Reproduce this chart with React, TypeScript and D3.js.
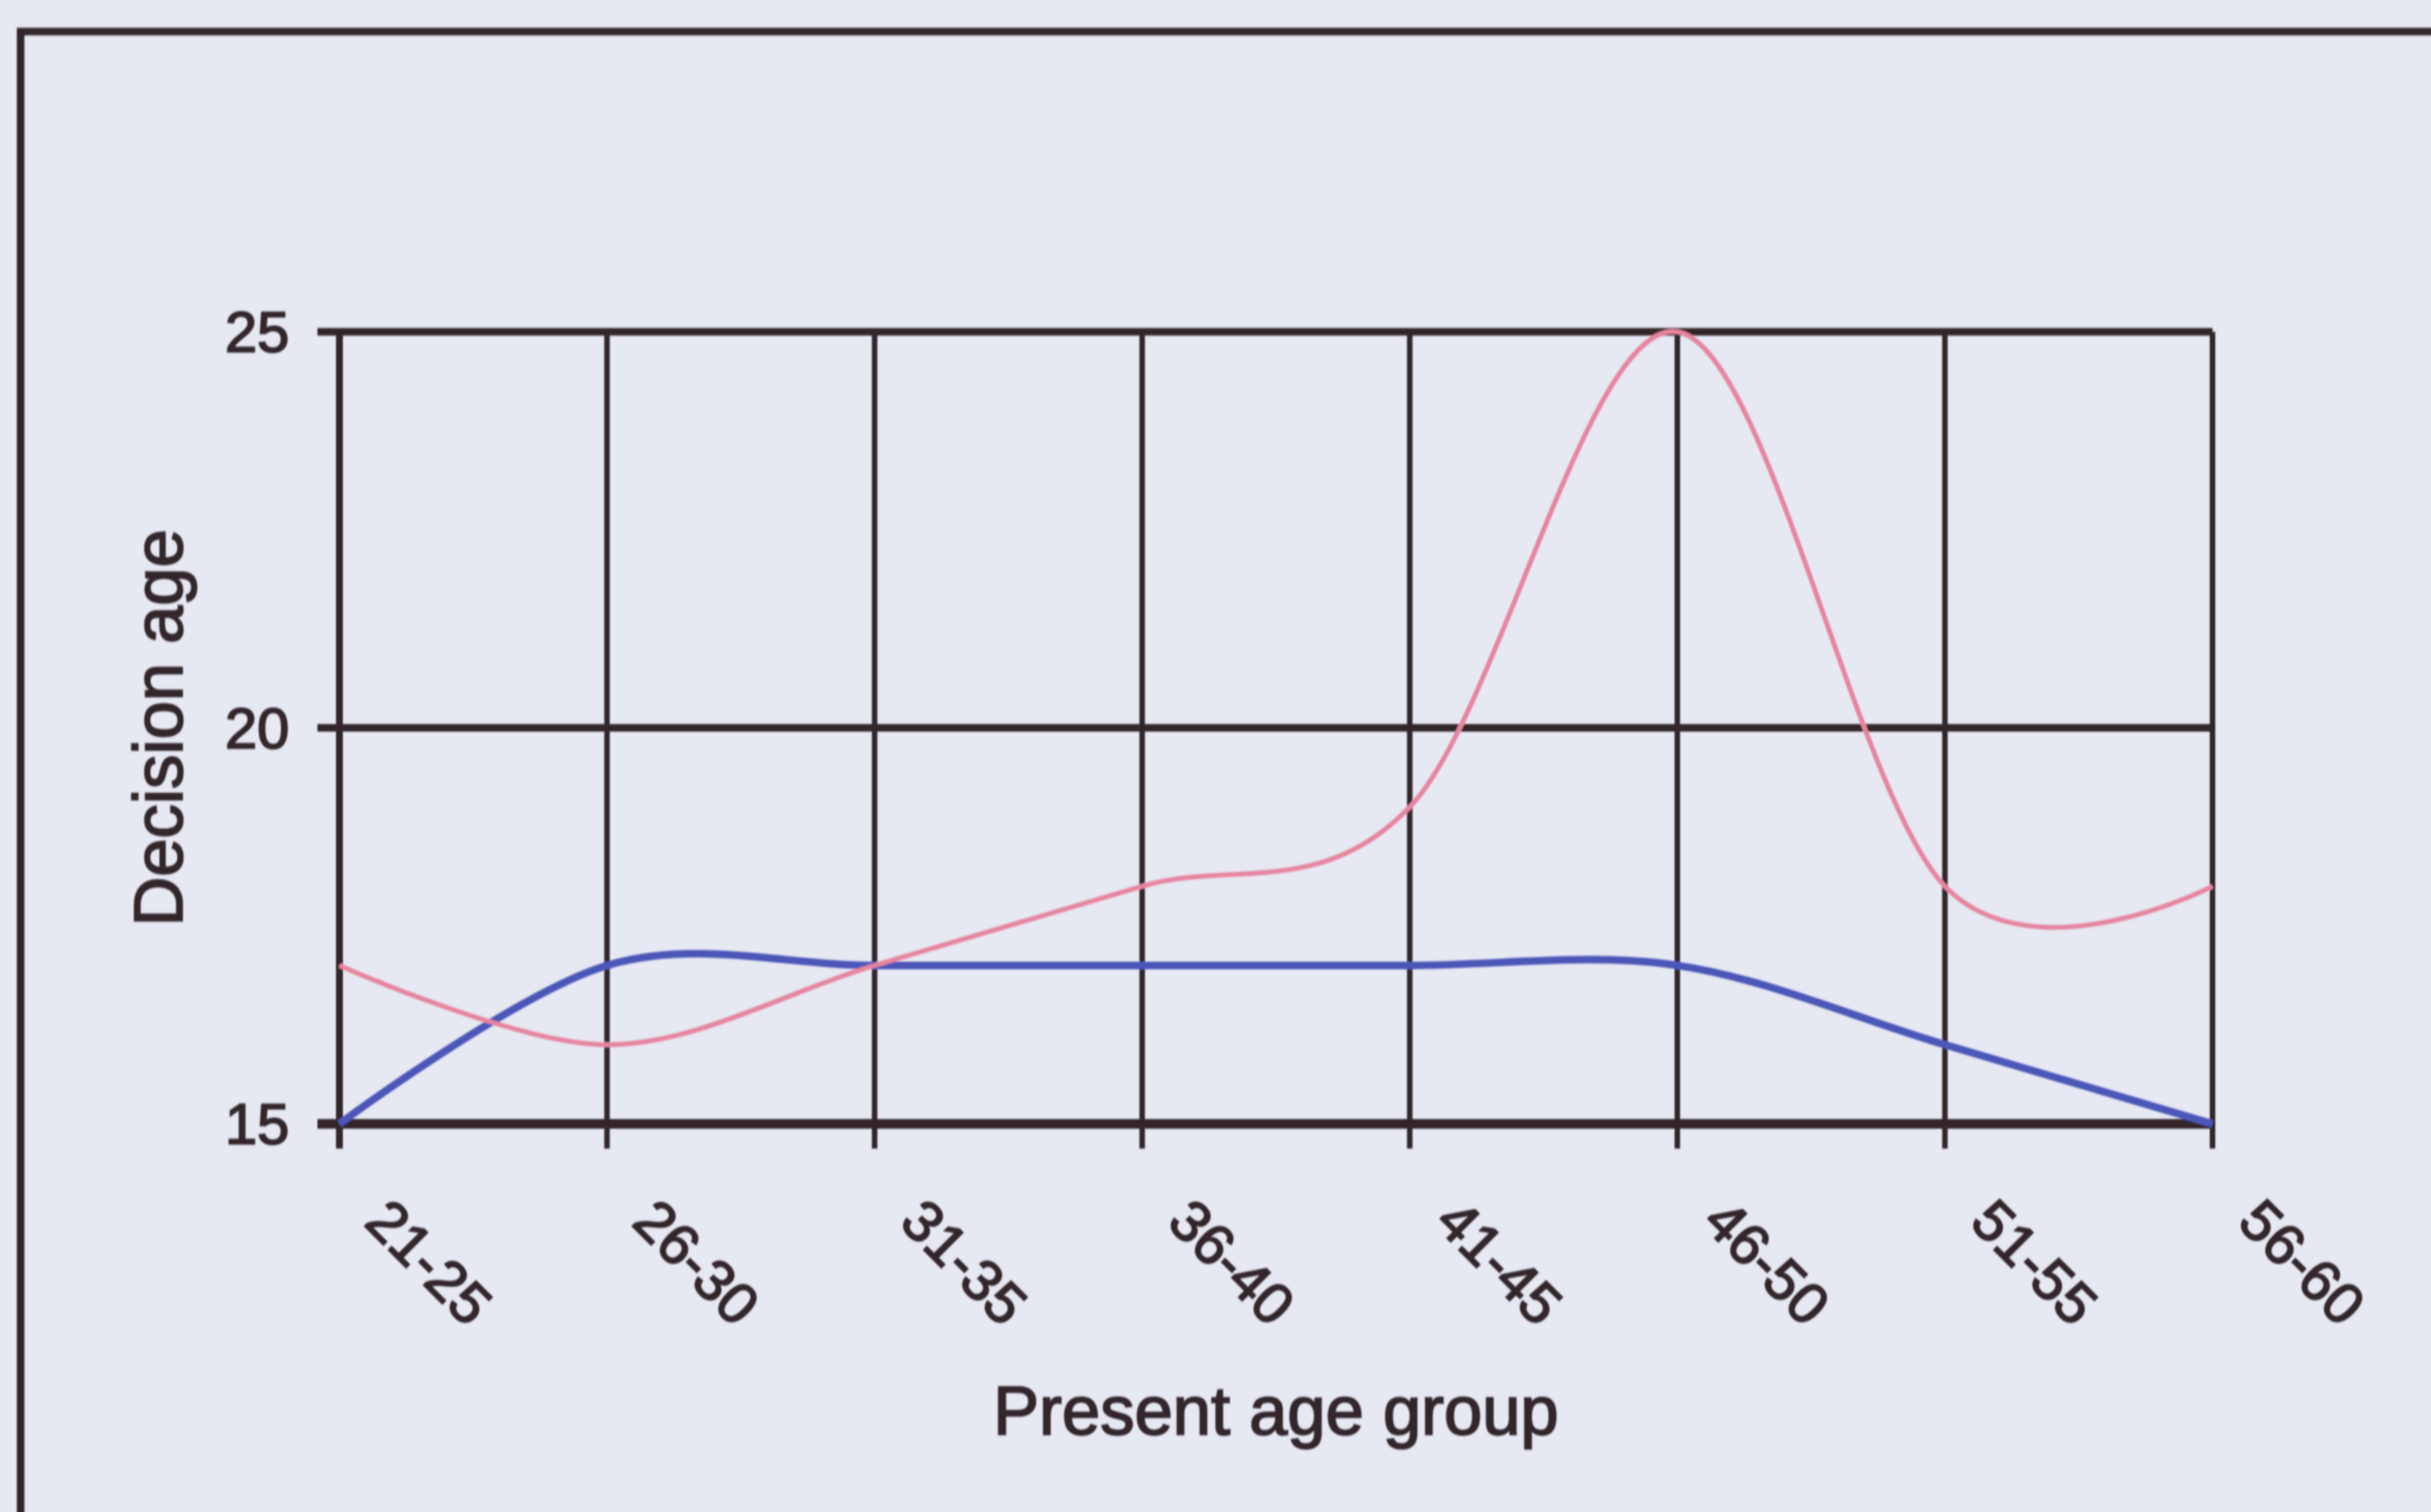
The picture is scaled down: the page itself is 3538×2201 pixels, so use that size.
import React from "react";
import * as d3 from "d3";

// Age groups on the horizontal axis
const categories = ["21-25", "26-30", "31-35", "36-40", "41-45", "46-50", "51-55", "56-60"];
// Decision age per present age group (pink and blue series)
const pinkValues = [17, 16, 17, 18, 19, 25, 18, 18];
const blueValues = [15, 17, 17, 17, 17, 17, 16, 15];
// Value axis ticks
const yTicks = [15, 20, 25];

const W = 3538;
const H = 2201;
const INK = "#33262a";
const PINK = "#e6859f";
const BLUE = "#4b56b8";

export default function App() {
  const x = d3.scalePoint<string>().domain(categories).range([494, 3220]);
  const y = d3.scaleLinear().domain([15, 25]).range([1636, 483]);

  const line = d3
    .line<number>()
    .x((_, i) => x(categories[i]) as number)
    .y((d) => y(d))
    .curve(d3.curveCardinal.tension(0));

  const x0 = x(categories[0]) as number;
  const x1 = x(categories[categories.length - 1]) as number;
  const tickBottom = y(15) + 36;

  return (
    <svg
      width={W}
      height={H}
      viewBox={`0 0 ${W} ${H}`}
      style={{ position: "absolute", left: 0, top: 0, display: "block" }}
    >
      <defs>
        <filter id="scanSoft" x="-2%" y="-2%" width="104%" height="104%">
          <feGaussianBlur stdDeviation="0.8 1.8" />
        </filter>
      </defs>

      <rect x={0} y={0} width={W} height={H} fill="#e6e8f2" />

      <g filter="url(#scanSoft)">
        {/* outer chart frame */}
        <rect x={30} y={46} width={W + 200} height={H + 200} fill="none" stroke={INK} strokeWidth={11} />

        {/* horizontal gridlines with outward ticks */}
        {yTicks.map((t) => (
          <line
            key={`h${t}`}
            x1={462}
            x2={x1}
            y1={y(t)}
            y2={y(t)}
            stroke={INK}
            strokeWidth={t === 15 ? 14 : 11}
          />
        ))}

        {/* vertical gridlines extending below the axis as ticks */}
        {categories.map((c) => (
          <line
            key={`v${c}`}
            x1={x(c)}
            x2={x(c)}
            y1={y(25)}
            y2={tickBottom}
            stroke={INK}
            strokeWidth={c === categories[0] ? 10 : 8}
          />
        ))}

        {/* data series */}
        <path d={line(blueValues) ?? ""} fill="none" stroke={BLUE} strokeWidth={11} strokeLinejoin="round" />
        <path d={line(pinkValues) ?? ""} fill="none" stroke={PINK} strokeWidth={7} strokeLinejoin="round" />

        {/* axis labels */}
        <g fontFamily="'Liberation Sans', Arial, sans-serif" fontSize={84} fill={INK} stroke={INK} strokeWidth={2.5}>
          {yTicks.map((t) => (
            <text key={`yl${t}`} x={421} y={y(t)} textAnchor="end" dominantBaseline="central">
              {t}
            </text>
          ))}
          {categories.map((c) => (
            <text
              key={`xl${c}`}
              transform={`translate(${(x(c) as number) + 34},1782) rotate(45)`}
              textAnchor="start"
            >
              {c}
            </text>
          ))}
        </g>

        {/* axis titles */}
        <g fontFamily="'Liberation Sans', Arial, sans-serif" fontSize={100} fill={INK} stroke={INK} strokeWidth={2.5}>
          <text x={(x0 + x1) / 2} y={2088} textAnchor="middle">
            Present age group
          </text>
          <text transform={`translate(265,${(y(15) + y(25)) / 2}) rotate(-90)`} textAnchor="middle">
            Decision age
          </text>
        </g>
      </g>
    </svg>
  );
}
